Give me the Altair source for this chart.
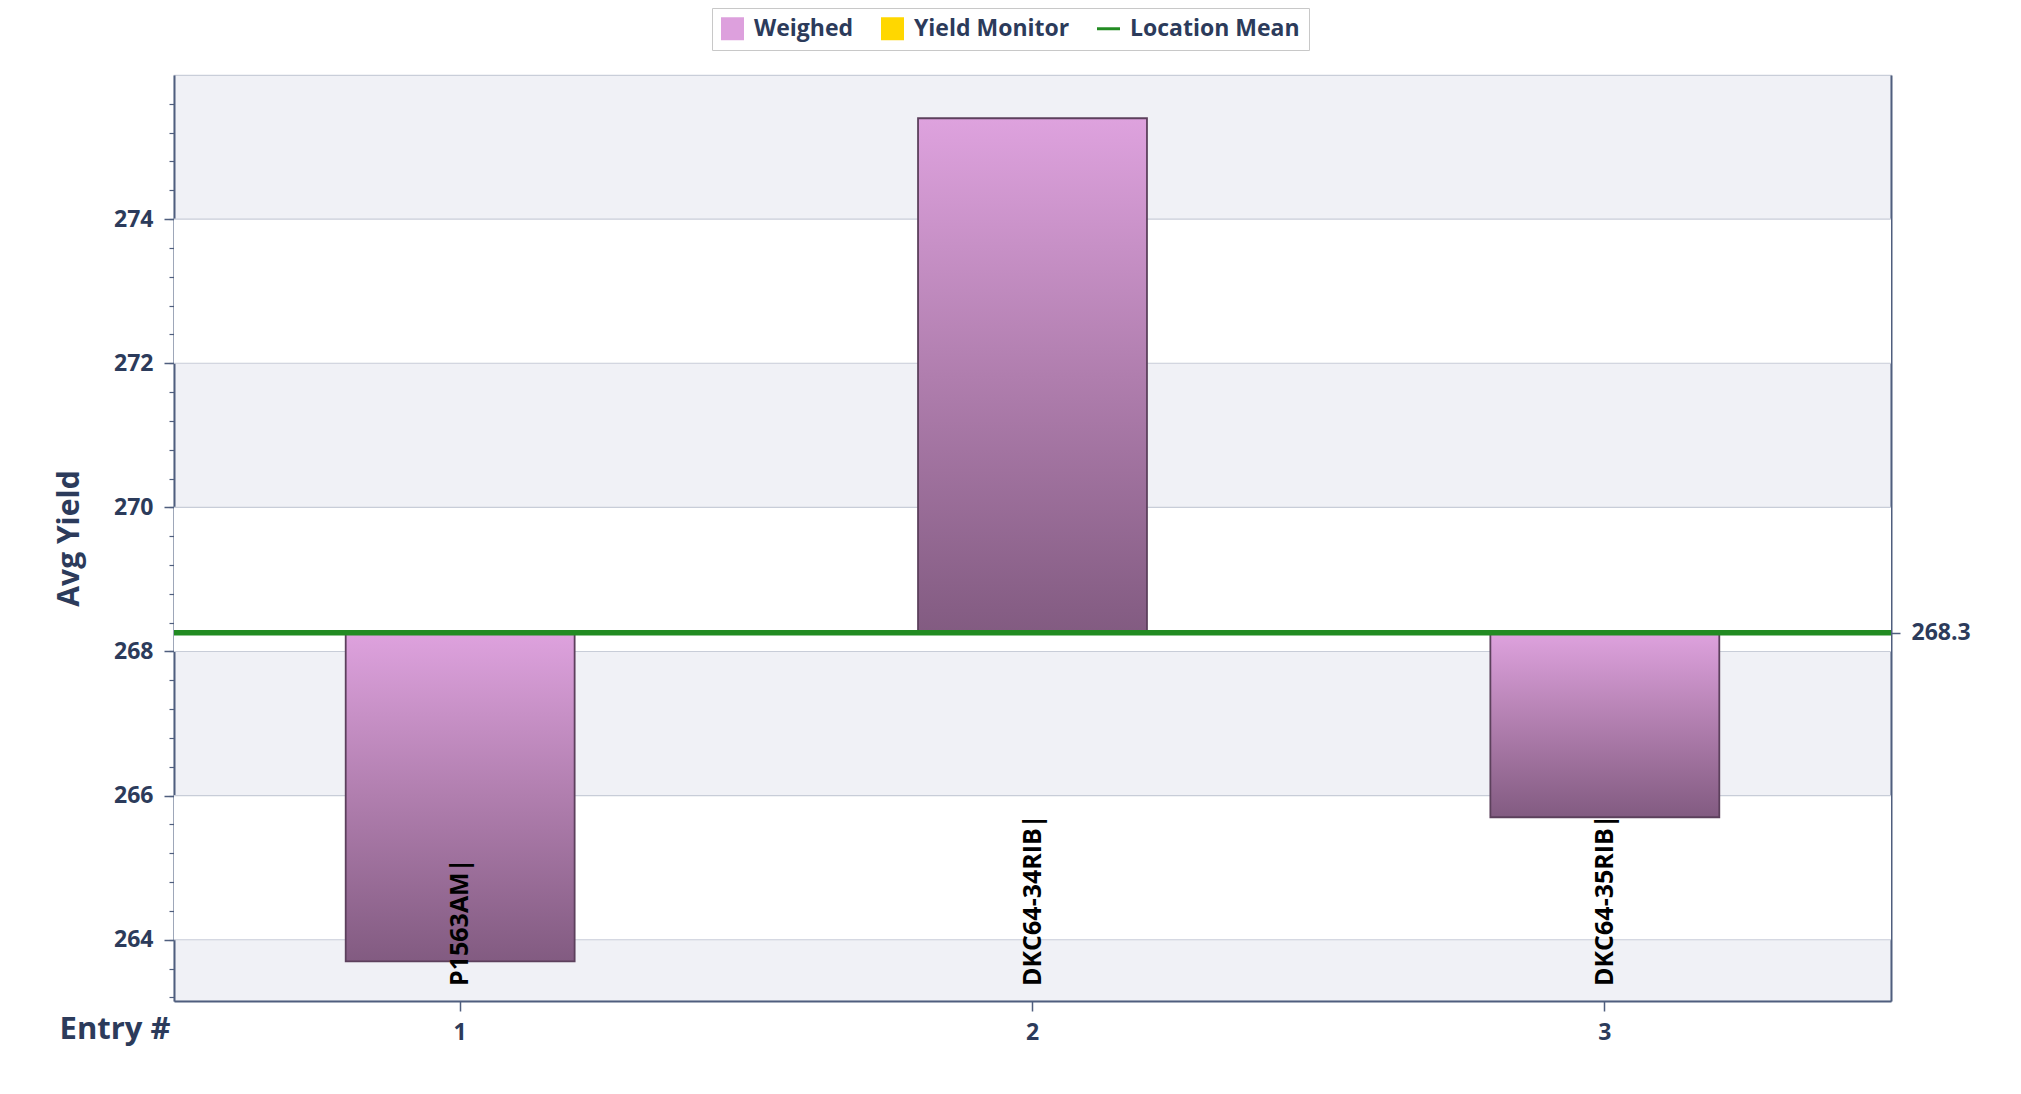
import altair as alt
import pandas as pd

# ---- data ----
entries = ["1", "2", "3"]
hybrids = ["P1563AM|", "DKC64-34RIB|", "DKC64-35RIB|"]
avg_yield = [263.7, 275.4, 265.7]
location_mean = 268.26
legend_series = ["Weighed", "Yield Monitor", "Location Mean"]
legend_colors = ["#DDA0DD", "#FFD700", "#228B22"]

y_domain = [263.15, 276.0]
major_ticks = [264, 266, 268, 270, 272, 274]
minor_ticks = [263.2, 263.6, 264.0, 264.4, 264.8, 265.2, 265.6, 266.0, 266.4, 266.8,
               267.2, 267.6, 268.0, 268.4, 268.8, 269.2, 269.6, 270.0, 270.4, 270.8,
               271.2, 271.6, 272.0, 272.4, 272.8, 273.2, 273.6, 274.0, 274.4, 274.8,
               275.2, 275.6]
white_band_start = [264, 268, 272]
white_band_end = [266, 270, 274]

W, H = 1717, 926
NAVY = "#2C3B5B"
AXIS = "#4F5E7E"
GRID = "#C8CDD8"
FONT = "Open Sans"

bars_df = pd.DataFrame({"entry": entries, "hybrid": hybrids, "yield": avg_yield,
                        "mean": [location_mean] * len(entries)})
bands_df = pd.DataFrame({"y0": white_band_start, "y1": white_band_end})
grid_df = pd.DataFrame({"v": major_ticks})
mean_df = pd.DataFrame({"mean": [location_mean]})
legend_df = pd.DataFrame({"series": legend_series, "off": [y_domain[1] + 50] * 3})

yscale = alt.Scale(domain=y_domain, nice=False, zero=False)
xscale = alt.Scale(domain=entries, paddingInner=0.6, paddingOuter=0.3)

stripes = alt.Chart(bands_df).mark_rect(color="white").encode(
    x=alt.value(0), x2=alt.value(W),
    y=alt.Y("y0:Q", scale=yscale, axis=alt.Axis(
        orient="left", values=minor_ticks, labels=False, grid=False, domain=False,
        tickSize=5, tickColor=AXIS, tickWidth=1.2, title=None)),
    y2="y1:Q",
)

grid = alt.Chart(grid_df).mark_rule(color=GRID, strokeWidth=1.2).encode(
    y=alt.Y("v:Q", scale=yscale, axis=alt.Axis(
        orient="left", values=major_ticks, grid=False, domain=True,
        domainColor=AXIS, domainWidth=2, tickSize=10, tickColor=AXIS, tickWidth=1.5,
        labelPadding=11, labelFont=FONT, labelFontSize=23, labelFontWeight="bold",
        labelColor=NAVY, title="Avg Yield", titleFont=FONT, titleFontSize=30,
        titleFontWeight="bold", titleColor=NAVY, titleX=-90, titleBaseline="bottom")),
)

gradient = alt.Gradient(
    gradient="linear",
    stops=[alt.GradientStop(color="#DEA2DE", offset=0),
           alt.GradientStop(color="#B07EAE", offset=0.5),
           alt.GradientStop(color="#825B81", offset=1)],
    x1=1, x2=1, y1=0, y2=1,
)

bars = alt.Chart(bars_df).mark_bar(fill=gradient, stroke="#5C405C", strokeWidth=1.8).encode(
    x=alt.X("entry:N", scale=xscale, sort=entries, axis=alt.Axis(
        orient="bottom", labelAngle=0, domainColor=AXIS, domainWidth=2, tickSize=10,
        tickColor=AXIS, tickWidth=1.5, labelPadding=10, labelFont=FONT, labelFontSize=23,
        labelFontWeight="bold", labelColor=NAVY, title="Entry #", titleFont=FONT,
        titleFontSize=31, titleFontWeight="bold", titleColor=NAVY, titleX=-4, titleY=37,
        titleAlign="right", titleBaseline="alphabetic")),
    y=alt.Y("yield:Q", scale=yscale, axis=None),
    y2="mean:Q",
)

labels = alt.Chart(bars_df).mark_text(
    angle=270, align="left", baseline="middle", dx=15, font=FONT, fontSize=25,
    fontWeight="bold", color="black",
).encode(
    x=alt.X("entry:N", scale=xscale, sort=entries),
    y=alt.Y(datum=y_domain[0], scale=yscale, axis=None),
    text="hybrid:N",
)

mean_rule = alt.Chart(mean_df).mark_rule(color="#228B22", strokeWidth=5.5).encode(
    y=alt.Y("mean:Q", scale=yscale, axis=alt.Axis(
        orient="right", values=[location_mean], format=".1f", grid=False,
        domain=True, domainColor=AXIS, domainWidth=2, tickSize=9, tickColor=AXIS,
        tickWidth=1.5, labelPadding=11, labelFont=FONT, labelFontSize=23,
        labelFontWeight="bold", labelColor=NAVY, title=None)),
)

legend_layer = alt.Chart(legend_df).mark_point(filled=True, clip=True, size=529, opacity=1).encode(
    x=alt.value(0),
    y=alt.Y("off:Q", scale=yscale, axis=None),
    color=alt.Color("series:N", sort=legend_series,
                    scale=alt.Scale(domain=legend_series, range=legend_colors),
                    legend=alt.Legend(title=None)),
    shape=alt.Shape("series:N", sort=legend_series,
                    scale=alt.Scale(domain=legend_series,
                                    range=["square", "square", "M-1,-0.13H1V0.13H-1Z"]),
                    legend=alt.Legend(title=None)),
)

chart = alt.layer(stripes, grid, bars, labels, mean_rule, legend_layer).resolve_axis(
    y="independent"
).properties(
    width=W, height=H,
    autosize=alt.AutoSizeParams(type="none"),
    padding={"left": 166, "top": 67, "right": 110, "bottom": 70},
).configure_view(
    fill="#F0F1F6", stroke="#C9CED9", strokeWidth=1.2,
).configure_legend(
    orient="none", legendX=538, legendY=-67, direction="horizontal",
    labelFont=FONT, labelFontSize=23, labelFontWeight="bold", labelColor=NAVY,
    labelLimit=400, symbolSize=529, symbolStrokeWidth=0, symbolOpacity=1, padding=9,
    strokeColor="#C8C8C8", fillColor="white", columnPadding=27, labelOffset=10,
)

chart.save("out.html", embed_options={"renderer": "svg", "actions": False})
